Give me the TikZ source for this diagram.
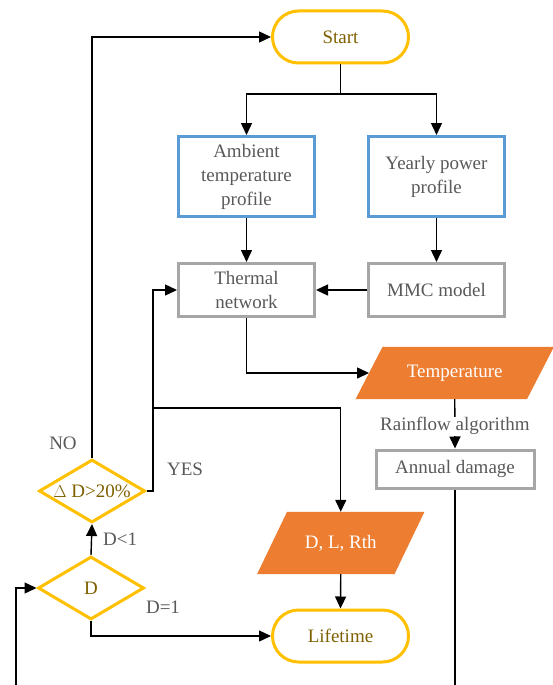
\documentclass[tikz,border=0pt]{standalone}
\usepackage{fontspec}
\setmainfont{Liberation Serif}
\usetikzlibrary{shapes.geometric,arrows.meta,backgrounds,calc}
\definecolor{cyel}{RGB}{255,192,0}
\definecolor{cblue}{RGB}{91,155,213}
\definecolor{cgray}{RGB}{166,166,166}
\definecolor{corange}{RGB}{237,125,49}
\definecolor{cgold}{RGB}{127,96,0}
\definecolor{ctext}{RGB}{89,89,89}
\tikzset{
  every node/.style={font=\fontsize{19}{24}\selectfont},
  term/.style={draw=cyel, line width=3pt, rounded corners=26pt, minimum width=136pt, minimum height=52pt, text=cgold, inner sep=0pt},
  bluebox/.style={draw=cblue, line width=3pt, minimum width=136pt, minimum height=80pt, text=ctext, align=center, inner sep=0pt},
  graybox/.style={draw=cgray, line width=3pt, minimum width=136pt, minimum height=53pt, text=ctext, align=center, inner sep=0pt},
  datanode/.style={text=white, inner sep=0pt},
  decision/.style={diamond, draw=cyel, line width=3pt, minimum width=106pt, minimum height=63pt, inner sep=-4pt, aspect=1.7, text=cgold},
  lbl/.style={text=ctext, inner sep=1pt},
  arr/.style={line width=1.4pt, -{Triangle[length=12pt,width=11pt]}},
  ln/.style={line width=1.4pt},
}
\begin{document}
\begin{tikzpicture}[x=1pt,y=-1pt]
\useasboundingbox (0,0) rectangle (553,685);
\clip (0,0) rectangle (553,685);
\node[term] (start) at (340.5,37) {Start};
\node[bluebox] (amb) at (246.5,176.5) {Ambient\\temperature\\profile};
\node[bluebox] (yearly) at (436.5,176.5) {Yearly power\\profile};
\node[graybox] (therm) at (246.5,290) {Thermal\\network};
\node[graybox] (mmc) at (436.5,290) {MMC model};
\node[datanode, minimum width=171pt, minimum height=52pt] (temp) at (454.75,373) {Temperature};
\node[graybox, minimum width=158pt, minimum height=38pt] (annual) at (455,469) {Annual damage};
\node[datanode, minimum width=137pt, minimum height=62pt] (dlr) at (340.75,543) {D, L, Rth};
\node[term] (life) at (340.5,636) {Lifetime};
\node[decision] (dd) at (92,491) {$\Delta$ D>20\%};
\node[decision] (d) at (91,588) {D};
\begin{scope}[on background layer]
  \fill[white] (0,0) rectangle (553,685);
  \fill[corange] ([xshift=13.5pt]temp.north west) -- ([xshift=13.5pt]temp.north east) -- ([xshift=-13.5pt]temp.south east) -- ([xshift=-13.5pt]temp.south west) -- cycle;
  \fill[corange] ([xshift=15pt]dlr.north west) -- ([xshift=15pt]dlr.north east) -- ([xshift=-15pt]dlr.south east) -- ([xshift=-15pt]dlr.south west) -- cycle;
\end{scope}
\coordinate (split) at (340.5,94);
\coordinate (yesx) at (153,408);
\coordinate (lb) at (16,700);
\draw[ln] (start.south) -- (split);
\draw[arr] (split) -| (amb.north);
\draw[arr] (split) -| (yearly.north);
\draw[arr] (amb.south) -- (therm.north);
\draw[arr] (yearly.south) -- (mmc.north);
\draw[arr] (mmc.west) -- (therm.east);
\draw[arr] (therm.south) |- (temp.west);
\draw[arr] (temp.south) -- node[lbl, fill=white, pos=0.55] (rain) {Rainflow algorithm} (annual.north);
\draw[arr] (annual.south) |- (lb) |- (d.west);
\draw[arr] (d.north) -- node[lbl, right=10pt] (dlt) {D<1} (dd.south);
\draw[arr] (dd.north) |- (start.west);
\draw[arr] (dd.east) -| (yesx) |- (therm.west);
\draw[arr] (yesx) -| (dlr.north);
\draw[arr] (dlr.south) -- (life.north);
\draw[arr] (d.south) |- (life.west);
\node[lbl] (no) at (63,443) {NO};
\node[lbl] (yes) at (185,469) {YES};
\node[lbl] (deq) at (163,607) {D=1};
\end{tikzpicture}
\end{document}
